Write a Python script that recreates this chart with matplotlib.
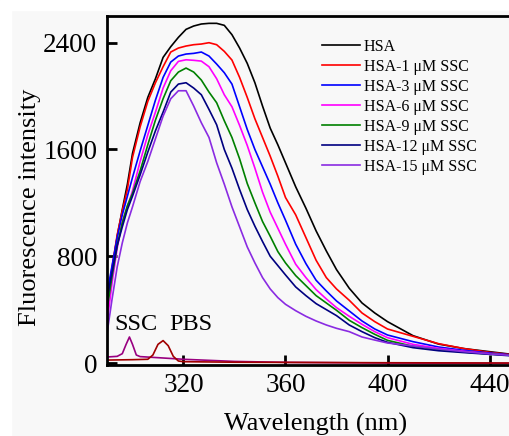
import matplotlib
matplotlib.use("Agg")
import matplotlib.pyplot as plt
from matplotlib.patches import Rectangle

plt.rcParams['font.family'] = ['Liberation Serif', 'DejaVu Serif']

# wavelength grid (nm) shared by the HSA emission spectra
wavelength = [290, 292, 294, 296, 298, 300, 303, 306, 309, 312, 315, 318, 321, 324, 327,
              330, 333, 336, 339, 342, 345, 348, 351, 354, 357, 360, 364, 368, 372, 376,
              380, 385, 390, 395, 400, 410, 420, 430, 440, 450]

hsa = [420, 700, 950, 1150, 1340, 1570, 1800, 1990, 2130, 2290, 2370, 2440, 2500, 2525, 2540,
       2545, 2545, 2530, 2460, 2360, 2245, 2100, 1925, 1760, 1635, 1500, 1320, 1160, 990, 840,
       700, 560, 450, 375, 310, 205, 142, 108, 85, 62]
hsa_1 = [460, 720, 960, 1140, 1300, 1540, 1770, 1960, 2100, 2220, 2330, 2360, 2375, 2385, 2390,
         2400, 2385, 2335, 2270, 2140, 1990, 1830, 1690, 1550, 1400, 1240, 1110, 940, 770, 640,
         555, 470, 375, 310, 255, 200, 145, 108, 80, 60]
hsa_3 = [520, 730, 940, 1110, 1250, 1390, 1590, 1780, 1970, 2140, 2255, 2300, 2315, 2320, 2330,
         2300, 2240, 2175, 2090, 1920, 1750, 1600, 1470, 1340, 1200, 1070, 890, 745, 620, 540,
         465, 390, 315, 255, 210, 160, 120, 95, 75, 58]
hsa_6 = [300, 600, 860, 1060, 1170, 1290, 1510, 1710, 1880, 2060, 2190, 2260, 2272, 2268, 2262,
         2220, 2130, 2010, 1920, 1780, 1630, 1460, 1280, 1130, 1010, 890, 740, 640, 550, 480,
         415, 350, 290, 235, 190, 140, 110, 88, 70, 55]
hsa_9 = [400, 650, 880, 1050, 1180, 1270, 1440, 1635, 1820, 1980, 2115, 2180, 2210, 2180, 2120,
         2030, 1950, 1815, 1690, 1530, 1345, 1200, 1060, 950, 835, 750, 655, 580, 505, 450,
         395, 320, 265, 215, 170, 125, 100, 82, 68, 55]
hsa_12 = [480, 680, 880, 1020, 1150, 1250, 1410, 1580, 1740, 1880, 2030, 2090, 2100, 2060, 2010,
          1900, 1785, 1600, 1460, 1300, 1150, 1025, 910, 800, 730, 660, 570, 505, 445, 400,
          355, 285, 235, 190, 155, 115, 92, 78, 65, 52]
hsa_15 = [220, 480, 720, 900, 1050, 1170, 1360, 1510, 1680, 1850, 1980, 2040, 2040, 1925, 1800,
          1690, 1500, 1340, 1170, 1020, 870, 750, 640, 555, 490, 440, 392, 350, 315, 285,
          260, 235, 195, 172, 150, 128, 105, 85, 68, 55]

series = [hsa, hsa_1, hsa_3, hsa_6, hsa_9, hsa_12, hsa_15]
labels = ['HSA', 'HSA-1 μM SSC', 'HSA-3 μM SSC', 'HSA-6 μM SSC',
          'HSA-9 μM SSC', 'HSA-12 μM SSC', 'HSA-15 μM SSC']
colors = ['black', '#ff0000', '#0000ff', '#ff00ff', '#008000', '#000080', '#8a2be2']

# SSC and PBS blanks
ssc_wl = [290, 294, 296, 297.5, 298.8, 300, 301.5, 303, 310, 320, 340, 360, 400, 450]
ssc = [45, 50, 70, 140, 195, 140, 60, 48, 40, 28, 12, 5, 0, -3]
pbs_wl = [290, 300, 306, 308, 310, 312, 314, 316, 318, 320, 340, 400, 450]
pbs = [22, 25, 28, 60, 140, 168, 130, 50, 15, 10, 6, 2, 0]

fig = plt.figure(figsize=(5.09, 4.36), dpi=100, facecolor='#f8f8f8')
# white margin strips of the original scan
fig.patches.append(Rectangle((0, 1 - 10 / 436), 1, 10 / 436, transform=fig.transFigure,
                             color='white', zorder=-5))
fig.patches.append(Rectangle((0, 0), 11 / 509, 1, transform=fig.transFigure,
                             color='white', zorder=-5))

ax = fig.add_axes([0.2102, 0.1628, 0.8016, 0.8005])
ax.set_facecolor('#f8f8f8')

for y, lab, c in zip(series, labels, colors):
    ax.plot(wavelength, y, color=c, lw=1.2, label=lab)
ax.plot(ssc_wl, ssc, color='#990080', lw=1.2)
ax.plot(pbs_wl, pbs, color='#a00000', lw=1.2)

ax.text(301.2, 292, 'SSC', fontsize=17.5, ha='center', va='center')
ax.text(322.7, 292, 'PBS', fontsize=17.5, ha='center', va='center')

ax.set_xlim(290, 450)
ax.set_ylim(-15, 2600)
ax.set_xticks([320, 360, 400, 440])
ax.set_yticks([0, 800, 1600, 2400])
ax.tick_params(direction='in', length=7, width=2, labelsize=19.5)
ax.tick_params(axis='x', pad=6)
ax.tick_params(axis='y', pad=7)
for s in ax.spines.values():
    s.set_linewidth(2)

ax.set_xlabel('Wavelength (nm)', fontsize=19)
ax.set_ylabel('Fluorescence intensity', fontsize=19)
ax.xaxis.set_label_coords(0.51, -0.1375)
ax.yaxis.set_label_coords(-0.162, 0.453)

ax.legend(loc='upper left', bbox_to_anchor=(0.527, 0.935), frameon=False, fontsize=11.5,
          handlelength=2.4, handletextpad=0.2, labelspacing=0.25, borderpad=0, borderaxespad=0)

fig.savefig('out.png', dpi=100, facecolor=fig.get_facecolor())
